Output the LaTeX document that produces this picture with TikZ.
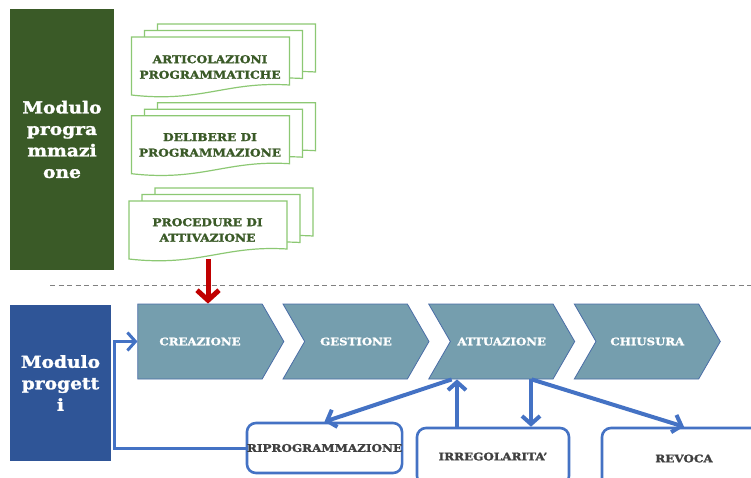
\documentclass[tikz,border=0pt]{standalone}
\usepackage{fontspec}
\setmainfont{DejaVu Serif}[FakeStretch=1.13, BoldFeatures={FakeBold=1.6}]
\usetikzlibrary{arrows.meta,shapes.symbols}

\definecolor{progreen}{HTML}{3A5A27}
\definecolor{docgreen}{HTML}{8CC873}
\definecolor{projblue}{HTML}{2F5597}
\definecolor{chevfill}{HTML}{759EAE}
\definecolor{chevline}{HTML}{4A6DA7}
\definecolor{arrblue}{HTML}{4472C4}
\definecolor{arrred}{HTML}{C00000}
\definecolor{txtgray}{HTML}{404040}

\tikzset{
	modbox/.style={rectangle, text=white, font=\bfseries\fontsize{16.5}{21.5}\selectfont, align=center, inner sep=0},
	docline/.style={draw=docgreen, line width=1.2, fill=white},
	doctxt/.style={text=progreen, font=\bfseries\fontsize{10.8}{15.5}\selectfont, align=center, inner sep=0},
	chev/.style={signal, signal to=east, signal pointer angle=120, fill=chevfill, draw=chevline, line width=0.8, minimum width=146, minimum height=75, inner sep=0, text=white, font=\bfseries\fontsize{10.4}{12}\selectfont},
	stepbox/.style={rectangle, rounded corners=9, draw=arrblue, line width=2.6, fill=white, inner sep=0, text=txtgray, font=\bfseries\fontsize{10.6}{13}\selectfont},
	bluearr/.style={draw=arrblue, line width=4, -{Straight Barb[length=8pt,width=18pt]}},
}

% one sheet of a document stack, (#1,#2) = top left corner
\def\docsheet(#1,#2){%
	\begin{scope}[shift={(#1,#2)}]
		\draw[docline] (0,0) -- (158,0) -- (158,48) .. controls (95,44) and (70,66) .. (0,58) -- cycle;
	\end{scope}}
\def\docstack(#1,#2){%
	\docsheet(#1+26,#2-13)
	\docsheet(#1+13,#2-6.5)
	\docsheet(#1,#2)}

\begin{document}
\begin{tikzpicture}[x=1pt,y=-1pt]
				\clip (0,0) rectangle (751,477);
				\fill[white] (0,0) rectangle (751,477);
				
				% modulo programmazione
				\node[modbox, fill=progreen, minimum width=104, minimum height=261] (prog) at (62,139.5) {Modulo\\progra\\mmazi\\one};
				
				\docstack(131.5,37)
				\node[doctxt] (artic) at (210,67) {ARTICOLAZIONI\\PROGRAMMATICHE};
				\docstack(131.5,115.7)
				\node[doctxt] (delib) at (210,145) {DELIBERE DI\\PROGRAMMAZIONE};
				\docstack(129,201)
				\node[doctxt] (proc) at (207.5,230) {PROCEDURE DI\\ATTIVAZIONE};
				\coordinate (procend) at (208,259);
				
				\draw[gray, line width=1.6, dash pattern=on 5pt off 3.5pt] (50,285.5) -- (751,285.5);
				
				% modulo progetti
				\node[modbox, fill=projblue, minimum width=101, minimum height=156] (proj) at (60.5,383) {Modulo\\progett\\i};
				
				\node[chev] (crea) at (200,341.5) {CREAZIONE};
				\node[chev, signal from=west] (gest) at (356,341.5) {GESTIONE};
				\node[chev, signal from=west] (attu) at (501.7,341.5) {ATTUAZIONE};
				\node[chev, signal from=west] (chiu) at (647.3,341.5) {CHIUSURA};
				
				\node[stepbox, minimum width=151, minimum height=50] (ripro) at (324.5,448) {RIPROGRAMMAZIONE};
				\node[stepbox, minimum width=152, minimum height=57] (irreg) at (493,456.5) {IRREGOLARITA'};
				\node[stepbox, minimum width=164, minimum height=61] (revoca) at (684,458.5) {REVOCA};
				
				\draw[arrred, line width=5, -{Straight Barb[length=10pt,width=22pt]}] (procend) -- (procend |- crea.north);
				
				\coordinate (turn) at (114.5,448);
				\draw[bluearr, line width=3] (ripro.west) -- (turn) |- (crea.west);
				\draw[bluearr] ([xshift=-50]attu.south) -- (ripro.north);
				\draw[bluearr] ([xshift=-36]irreg.north) -- ([xshift=-36]irreg.north |- attu.south);
				\draw[bluearr] ([xshift=38]irreg.north |- attu.south) -- ([xshift=38]irreg.north);
				\draw[bluearr] ([xshift=30]attu.south) -- (revoca.north);
\end{tikzpicture}
\end{document}
